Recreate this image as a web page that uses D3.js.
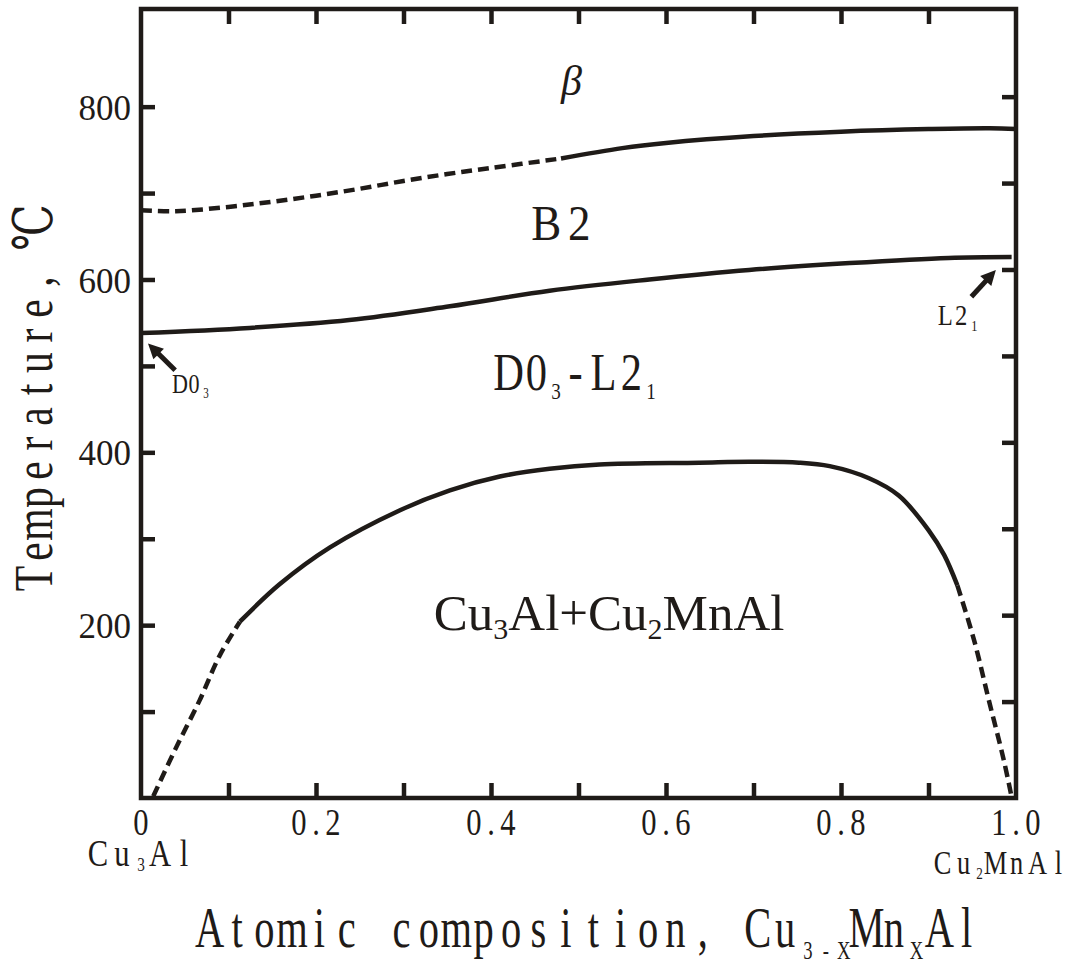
<!DOCTYPE html>
<html>
<head>
<meta charset="utf-8">
<script src="https://cdn.jsdelivr.net/npm/d3@7/dist/d3.min.js"></script>
<style>
    html, body { margin: 0; background: #ffffff; }
    svg { display: block; }
    text { white-space: pre; font-family: "Liberation Serif", "Times New Roman", Times, "DejaVu Serif", serif; }
</style>
</head>
<body>
<div id="chart"></div>
<script>
// beta / B2 boundary (dashed part, then solid part)
const betaDashX = [0, 0.04, 0.1, 0.15, 0.2, 0.25, 0.3, 0.35, 0.4, 0.48];
const betaDashT = [680, 679, 684, 690, 697, 705, 714, 722, 729, 740];
const betaSolidX = [0.48, 0.55, 0.6, 0.7, 0.8, 0.9, 0.97, 1.0];
const betaSolidT = [740, 752, 758, 766, 771, 774, 775, 774];

// B2 / DO3-L21 boundary
const b2X = [0, 0.124, 0.238, 0.353, 0.467, 0.581, 0.695, 0.81, 0.923, 0.995];
const b2T = [538, 544, 553, 569, 587, 600, 611, 619, 625, 626];

// miscibility dome Cu3Al + Cu2MnAl
const domeLeftX = [0.014, 0.039, 0.067, 0.09, 0.113];
const domeLeftT = [2, 56, 113, 165, 204];
const domeX = [0.113, 0.158, 0.216, 0.296, 0.353, 0.41, 0.467, 0.524, 0.638, 0.695, 0.752, 0.787, 0.832, 0.866, 0.9, 0.918, 0.933];
const domeT = [204, 247, 290, 333, 356, 372, 381, 386, 388, 389, 388, 384, 370, 350, 310, 281, 246];
const domeRightX = [0.933, 0.952, 0.969, 0.986, 0.995];
const domeRightT = [246, 183, 113, 44, 1];

// axes
const xTicks = [0.1, 0.2, 0.3, 0.4, 0.5, 0.6, 0.7, 0.8, 0.9];
const xTickLabels = ["0", "0.2", "0.4", "0.6", "0.8", "1.0"];
const xTickLabelValues = [0, 0.2, 0.4, 0.6, 0.8, 1.0];
const yTicks = [100, 200, 300, 400, 500, 600, 700, 800];

const INK = "#1f1b18";
const SERIF = "\"Liberation Serif\", \"Times New Roman\", Times, \"DejaVu Serif\", serif";
const MONO = SERIF;

const W = 1081, H = 975;
const x = d3.scaleLinear().domain([0, 1]).range([141, 1016]);
const y = d3.scaleLinear().domain([0, 913]).range([798, 9]);

const svg = d3.select("#chart").append("svg")
    .attr("width", W)
    .attr("height", H)
    .attr("viewBox", [0, 0, W, H])
    .attr("font-family", SERIF);

svg.append("rect").attr("width", W).attr("height", H).attr("fill", "#fff");

function zip(xs, ts) {
    return xs.map((v, i) => [v, ts[i]]);
}

// characters laid out on a fixed grid, like the narrow typewriter font of the original
function monoLabel(parent, parts, x0, y0, o) {
    const cells = [];
    let off = 0;
    parts.forEach(([str, sub]) => {
        for (const ch of str) {
            const w = sub ? o.subCell : o.cell;
            cells.push({ ch, sub, c: off + w / 2 });
            off += w;
        }
    });
    const start = o.anchor === "middle" ? x0 - off / 2 : x0;
    const t = parent.append("text")
        .attr("transform", `translate(${start},${y0}) scale(${o.sx},${o.sy})`)
        .attr("text-anchor", "middle")
        .attr("fill", INK)
        .attr("font-family", MONO)
        .attr("font-size", o.size);
    cells.forEach((d) => {
        t.append("tspan")
            .attr("x", d.c / o.sx)
            .attr("y", d.sub ? (o.subDy || o.size * 0.22) : 0)
            .attr("font-size", d.sub ? o.size * (o.subScale || 0.6) : null)
            .text(d.ch);
    });
    return t;
}

const line = d3.line()
    .x((d) => x(d[0]))
    .y((d) => y(d[1]))
    .curve(d3.curveCatmullRom.alpha(0.5));

const curves = svg.append("g")
    .attr("fill", "none")
    .attr("stroke", INK)
    .attr("stroke-width", 4.5);

const segments = [
    { pts: zip(betaDashX, betaDashT), dashed: true },
    { pts: zip(betaSolidX, betaSolidT), dashed: false },
    { pts: zip(b2X, b2T), dashed: false },
    { pts: zip(domeLeftX, domeLeftT), dashed: true },
    { pts: zip(domeX, domeT), dashed: false },
    { pts: zip(domeRightX, domeRightT), dashed: true }
];

curves.selectAll("path")
    .data(segments)
    .join("path")
    .attr("d", (d) => line(d.pts))
    .attr("stroke-dasharray", (d) => (d.dashed ? "11 6" : null));

// axes: inward ticks on all four sides
function styleAxis(g) {
    g.attr("font-family", SERIF);
    g.select(".domain").remove();
    g.selectAll(".tick line").attr("stroke", INK).attr("stroke-width", 4.5);
}

svg.append("g")
    .attr("transform", "translate(0,798)")
    .call(d3.axisBottom(x).tickValues(xTicks).tickSize(-15).tickFormat(""))
    .call(styleAxis);

svg.append("g")
    .attr("transform", "translate(0,9)")
    .call(d3.axisTop(x).tickValues(xTicks).tickSize(-15).tickFormat(""))
    .call(styleAxis);

svg.append("g")
    .attr("transform", "translate(141,0)")
    .call(d3.axisLeft(y).tickValues(yTicks).tickSize(-14).tickPadding(10)
        .tickFormat((d) => (d % 200 === 0 ? d : "")))
    .call(styleAxis)
    .call((g) => g.selectAll("text")
        .attr("fill", INK)
        .attr("dy", "0.36em")
        .attr("font-size", 35));

svg.append("g")
    .attr("transform", "translate(1016,-10)")
    .call(d3.axisRight(y).tickValues(yTicks).tickSize(-14).tickFormat(""))
    .call(styleAxis);

svg.append("rect")
    .attr("x", x(0))
    .attr("y", y(913))
    .attr("width", x(1) - x(0))
    .attr("height", y(0) - y(913))
    .attr("fill", "none")
    .attr("stroke", INK)
    .attr("stroke-width", 4.5);

// x tick labels
xTickLabelValues.forEach((v, i) => {
    monoLabel(svg, [[xTickLabels[i], false]], x(v), 835,
        { size: 36, cell: 17, sx: 0.85, sy: 1.05, anchor: "middle" });
});

monoLabel(svg, [["Cu", false], ["3", true], ["Al", false]], 86, 866,
    { size: 36, cell: 24, subCell: 14, sx: 0.85, sy: 1.05, subScale: 0.5, subDy: 5 });
monoLabel(svg, [["Cu", false], ["2", true], ["MnAl", false]], 932, 874,
    { size: 33, cell: 21, subCell: 11, sx: 0.8, sy: 1.0, subScale: 0.5, subDy: 5 });

// axis titles
monoLabel(svg, [["Atomic composition, Cu", false], ["3-X", true], ["Mn", false], ["X", true], ["Al", false]],
    196, 947, { size: 54, cell: 27.4, subCell: 18, sx: 0.75, sy: 1.05, subScale: 0.46, subDy: 11 });

const yTitle = svg.append("g").attr("transform", "translate(52,592) rotate(-90)");
monoLabel(yTitle, [["Temperature, ", false], ["℃", false]], 0, 0,
    { size: 52, cell: 27, sx: 0.8, sy: 1.05 });

// phase labels
svg.append("text")
    .attr("x", x(0.492))
    .attr("y", y(813))
    .attr("text-anchor", "middle")
    .attr("fill", INK)
    .attr("font-style", "italic")
    .attr("font-size", 42)
    .text("β");

monoLabel(svg, [["B2", false]], x(0.482), y(646),
    { size: 50, cell: 33, sx: 0.9, sy: 1.0, anchor: "middle" });

monoLabel(svg, [["D0", false], ["3", true], ["-L2", false], ["1", true]], x(0.404), y(472),
    { size: 50, cell: 28, subCell: 11, sx: 0.85, sy: 1.05, subScale: 0.45, subDy: 8 });

const mixLabel = svg.append("text")
    .attr("x", x(0.535))
    .attr("y", y(194))
    .attr("text-anchor", "middle")
    .attr("fill", INK)
    .attr("font-size", 51);
mixLabel.append("tspan").text("Cu");
mixLabel.append("tspan").attr("dy", 9).attr("font-size", 30).text("3");
mixLabel.append("tspan").attr("dy", -9).text("Al+Cu");
mixLabel.append("tspan").attr("dy", 9).attr("font-size", 30).text("2");
mixLabel.append("tspan").attr("dy", -9).text("MnAl");

monoLabel(svg, [["D0", false], ["3", true]], x(0.0365), y(469),
    { size: 26, cell: 14, subCell: 10, sx: 0.85, sy: 1.05, subScale: 0.5, subDy: 5 });
monoLabel(svg, [["L2", false], ["1", true]], x(0.91), y(547),
    { size: 29, cell: 16, subCell: 10, sx: 0.85, sy: 1.05, subScale: 0.5, subDy: 5 });

// short arrows pointing at the end points of the ordering line
const arrows = [
    { from: [0.039, 495], to: [0.008, 526] },
    { from: [0.949, 580], to: [0.977, 611] }
];

arrows.forEach((a) => {
    const x0 = x(a.from[0]), y0 = y(a.from[1]);
    const x1 = x(a.to[0]), y1 = y(a.to[1]);
    const len = Math.hypot(x1 - x0, y1 - y0);
    const ux = (x1 - x0) / len, uy = (y1 - y0) / len;
    const head = 15, half = 7.5;
    const bx = x1 - ux * head, by = y1 - uy * head;
    svg.append("line")
        .attr("x1", x0).attr("y1", y0)
        .attr("x2", bx + ux * 2).attr("y2", by + uy * 2)
        .attr("stroke", INK)
        .attr("stroke-width", 5);
    svg.append("path")
        .attr("d", `M${x1},${y1}L${bx - uy * half},${by + ux * half}L${bx + uy * half},${by - ux * half}Z`)
        .attr("fill", INK);
});
</script>
</body>
</html>
